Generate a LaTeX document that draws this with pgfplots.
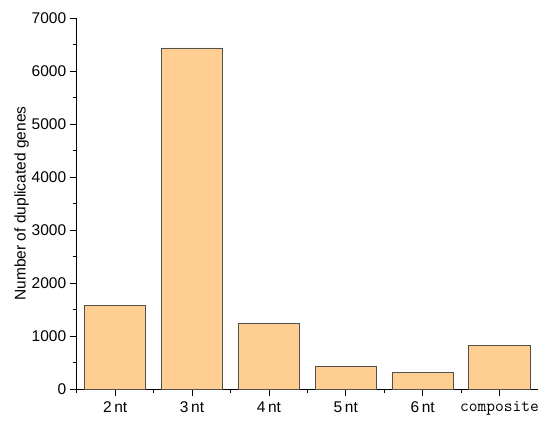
\documentclass[border=0pt]{standalone}
\usepackage{fontspec}
\setmainfont{Liberation Sans}
\usepackage{pgfplots}
\pgfplotsset{compat=1.18}
\definecolor{barfill}{RGB}{255,207,145}
\definecolor{baredge}{RGB}{80,80,80}
\begin{document}
\begin{tikzpicture}
\begin{axis}[
  name=ax,
  scale only axis,
  width=461.3bp, height=371bp,
  xmin=-0.5, xmax=5.5,
  ymin=0, ymax=7000,
  axis x line*=bottom,
  axis y line*=left,
  tick align=outside,
  major tick length=7bp,
  minor tick length=4bp,
  xtick={0,1,2,3,4,5},
  xticklabels={2\,nt,3\,nt,4\,nt,5\,nt,6\,nt,{\ttfamily\fontsize{17bp}{18bp}\selectfont composite}},
  minor xtick={-0.5,0.5,1.5,2.5,3.5,4.5},
  ytick={0,1000,...,7000},
  minor y tick num=1,
  /pgf/number format/assume math mode=true,
  /pgf/number format/1000 sep={},
  tick label style={font=\fontsize{15.5bp}{17bp}\selectfont, black},
  xticklabel style={yshift=-2bp},
  ylabel={Number of duplicated genes},
  ylabel style={font=\fontsize{15.5bp}{17bp}\selectfont},
  ylabel shift=-4bp,
  axis line style={black, line width=0.8bp},
  every tick/.style={black, line width=0.8bp},
  ybar, bar width=0.8,
  bar shift=0pt,
]
\addplot[fill=barfill, draw=baredge, line width=0.8bp] coordinates {
  (0,1570) (1,6435) (2,1235) (3,425) (4,318) (5,820)
};
\end{axis}
\path (ax.south west) ++(-76.7bp,-34bp) coordinate (bl);
\path (ax.north east) ++(12bp,18bp) coordinate (tr);
\path[use as bounding box] (bl) rectangle (tr);
\end{tikzpicture}
\end{document}
